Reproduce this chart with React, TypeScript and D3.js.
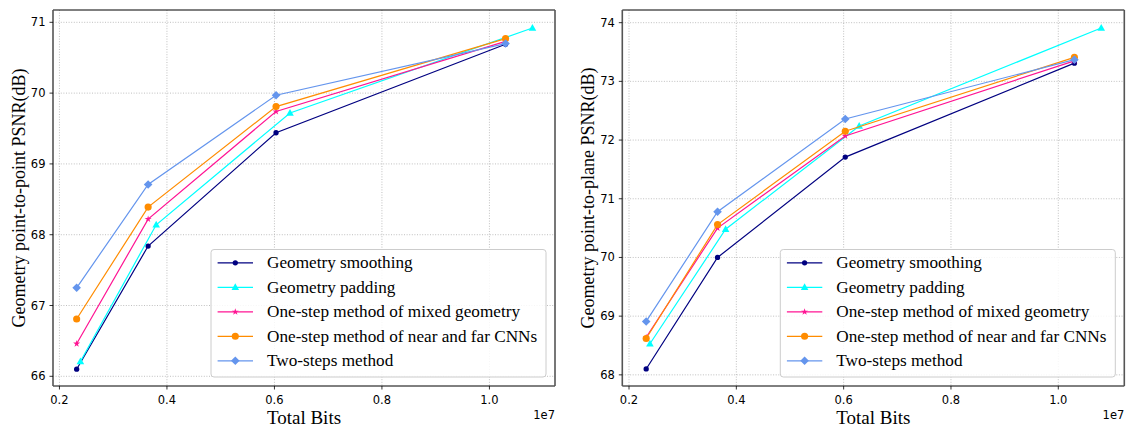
import React from "react";
import * as d3 from "d3";

const seriesNames = [
  "Geometry smoothing",
  "Geometry padding",
  "One-step method of mixed geometry",
  "One-step method of near and far CNNs",
  "Two-steps method",
];
const seriesColors = ["#000080", "#00ffff", "#ff1493", "#ff8c00", "#6495ed"];
const seriesMarkers = ["circle", "triangle", "star", "bigcircle", "diamond"];

// x values (×1e7)
const xSmoothing = [0.232, 0.365, 0.603, 1.03];
const xPadding = [0.239, 0.38, 0.629, 1.08];
const xMixed = [0.232, 0.365, 0.603, 1.03];
const xNearFar = [0.232, 0.365, 0.603, 1.03];
const xTwoSteps = [0.232, 0.365, 0.603, 1.03];

// Left: point-to-point PSNR
const p2pSmoothing = [66.1, 67.84, 69.44, 70.69];
const p2pPadding = [66.21, 68.14, 69.72, 70.92];
const p2pMixed = [66.46, 68.22, 69.74, 70.73];
const p2pNearFar = [66.81, 68.39, 69.81, 70.77];
const p2pTwoSteps = [67.25, 68.71, 69.97, 70.7];

// Right: point-to-plane PSNR
const p2plSmoothing = [68.1, 70.0, 71.71, 73.31];
const p2plPadding = [68.53, 70.48, 72.24, 73.91];
const p2plMixed = [68.64, 70.5, 72.07, 73.35];
const p2plNearFar = [68.62, 70.56, 72.15, 73.41];
const p2plTwoSteps = [68.91, 70.78, 72.36, 73.37];

const xTicks = [0.2, 0.4, 0.6, 0.8, 1.0];
const leftYTicks = [66, 67, 68, 69, 70, 71];
const rightYTicks = [68, 69, 70, 71, 72, 73, 74];

const xs = [xSmoothing, xPadding, xMixed, xNearFar, xTwoSteps];
const leftYs = [p2pSmoothing, p2pPadding, p2pMixed, p2pNearFar, p2pTwoSteps];
const rightYs = [p2plSmoothing, p2plPadding, p2plMixed, p2plNearFar, p2plTwoSteps];

const SERIF = "'Liberation Serif', 'Times New Roman', serif";
const SANS = "'DejaVu Sans', sans-serif";

function markerPath(kind: string): string {
  switch (kind) {
    case "circle":
      return d3.symbol(d3.symbolCircle, 22)()!;
    case "triangle": {
      const r = 4;
      return `M0,${-r}L${r * 0.95},${r * 0.7}L${-r * 0.95},${r * 0.7}Z`;
    }
    case "star":
      return d3.symbol(d3.symbolStar, 15)()!;
    case "bigcircle":
      return d3.symbol(d3.symbolCircle, 40)()!;
    case "diamond": {
      const r = 4.3;
      return `M0,${-r}L${r},0L0,${r}L${-r},0Z`;
    }
  }
  return "";
}

interface PanelProps {
  x0: number;
  x1: number;
  y0: number;
  y1: number;
  xDomain: [number, number];
  yDomain: [number, number];
  yTicks: number[];
  ys: number[][];
  yLabel: string;
}

function Panel(p: PanelProps) {
  const x = d3.scaleLinear().domain(p.xDomain).range([p.x0, p.x1]);
  const y = d3.scaleLinear().domain(p.yDomain).range([p.y1, p.y0]);
  const line = d3
    .line<[number, number]>()
    .x((d) => x(d[0]))
    .y((d) => y(d[1]));
  const legW = 335;
  const legH = 127.5;
  const legX = p.x1 - 9 - legW;
  const legY = p.y1 - 9 - legH;
  const rowH = 24.5;
  return (
    <g>
      {/* grid */}
      {xTicks.map((t) => (
        <line
          key={"gx" + t}
          x1={x(t)}
          x2={x(t)}
          y1={p.y0}
          y2={p.y1}
          stroke="#b0b0b0"
          strokeWidth={0.8}
          strokeDasharray="1,1.6"
        />
      ))}
      {p.yTicks.map((t) => (
        <line
          key={"gy" + t}
          x1={p.x0}
          x2={p.x1}
          y1={y(t)}
          y2={y(t)}
          stroke="#b0b0b0"
          strokeWidth={0.8}
          strokeDasharray="1,1.6"
        />
      ))}
      {/* series */}
      {p.ys.map((vals, i) => {
        const pts: [number, number][] = vals.map((v, j) => [xs[i][j], v]);
        return (
          <g key={"s" + i}>
            <path d={line(pts)!} fill="none" stroke={seriesColors[i]} strokeWidth={1.2} />
            {pts.map((pt, j) => (
              <path
                key={j}
                d={markerPath(seriesMarkers[i])}
                transform={`translate(${x(pt[0])},${y(pt[1])})`}
                fill={seriesColors[i]}
              />
            ))}
          </g>
        );
      })}
      {/* spines */}
      <line x1={p.x0} x2={p.x1} y1={p.y0} y2={p.y0} stroke="#000" strokeWidth={1} />
      <line x1={p.x0} x2={p.x1} y1={p.y1} y2={p.y1} stroke="#000" strokeWidth={1} />
      <line x1={p.x0} x2={p.x0} y1={p.y0} y2={p.y1} stroke="#555" strokeWidth={1.6} />
      <line x1={p.x1} x2={p.x1} y1={p.y0} y2={p.y1} stroke="#555" strokeWidth={1.6} />
      {/* x ticks */}
      {xTicks.map((t) => (
        <g key={"xt" + t}>
          <line x1={x(t)} x2={x(t)} y1={p.y1} y2={p.y1 + 3.5} stroke="#000" strokeWidth={0.8} />
          <text
            x={x(t)}
            y={p.y1 + 18}
            textAnchor="middle"
            fontFamily={SANS}
            fontSize={11.5}
            fill="#000"
          >
            {t.toFixed(1)}
          </text>
        </g>
      ))}
      <text x={p.x1} y={p.y1 + 33} textAnchor="end" fontFamily={SANS} fontSize={11.5} fill="#000">
        1e7
      </text>
      {/* y ticks */}
      {p.yTicks.map((t) => (
        <g key={"yt" + t}>
          <line x1={p.x0 - 3.5} x2={p.x0} y1={y(t)} y2={y(t)} stroke="#000" strokeWidth={0.8} />
          <text
            x={p.x0 - 7.5}
            y={y(t) + 4}
            textAnchor="end"
            fontFamily={SANS}
            fontSize={11.5}
            fill="#000"
          >
            {t}
          </text>
        </g>
      ))}
      {/* axis labels */}
      <text
        x={(p.x0 + p.x1) / 2}
        y={p.y1 + 38}
        textAnchor="middle"
        fontFamily={SERIF}
        fontSize={19}
        fill="#000"
      >
        Total Bits
      </text>
      <text
        transform={`translate(${p.x0 - 28},${(p.y0 + p.y1) / 2}) rotate(-90)`}
        textAnchor="middle"
        fontFamily={SERIF}
        fontSize={18}
        fill="#000"
      >
        {p.yLabel}
      </text>
      {/* legend */}
      <rect
        x={legX}
        y={legY}
        width={legW}
        height={legH}
        rx={3}
        fill="#fff"
        fillOpacity={0.85}
        stroke="#cccccc"
        strokeWidth={1}
      />
      {seriesNames.map((name, i) => {
        const cy = legY + 13.3 + i * rowH;
        return (
          <g key={"lg" + i}>
            <line
              x1={legX + 6.6}
              x2={legX + 42}
              y1={cy}
              y2={cy}
              stroke={seriesColors[i]}
              strokeWidth={1.2}
            />
            <path
              d={markerPath(seriesMarkers[i])}
              transform={`translate(${legX + 24.3},${cy})`}
              fill={seriesColors[i]}
            />
            <text
              x={legX + 56}
              y={cy + 5.5}
              fontFamily={SERIF}
              fontSize={17.2}
              fill="#000"
            >
              {name}
            </text>
          </g>
        );
      })}
    </g>
  );
}

export default function App() {
  return (
    <svg
      width={1127}
      height={428}
      style={{ position: "absolute", left: 0, top: 0, background: "#fff" }}
    >
      <rect width={1127} height={428} fill="#fff" />
      <Panel
        x0={53}
        x1={555}
        y0={10}
        y1={386}
        xDomain={[0.188, 1.122]}
        yDomain={[65.863, 71.174]}
        yTicks={leftYTicks}
        ys={leftYs}
        yLabel="Geometry point-to-point PSNR(dB)"
      />
      <Panel
        x0={622.3}
        x1={1124.3}
        y0={10}
        y1={386}
        xDomain={[0.1875, 1.123]}
        yDomain={[67.81, 74.216]}
        yTicks={rightYTicks}
        ys={rightYs}
        yLabel="Geometry point-to-plane PSNR(dB)"
      />
    </svg>
  );
}
